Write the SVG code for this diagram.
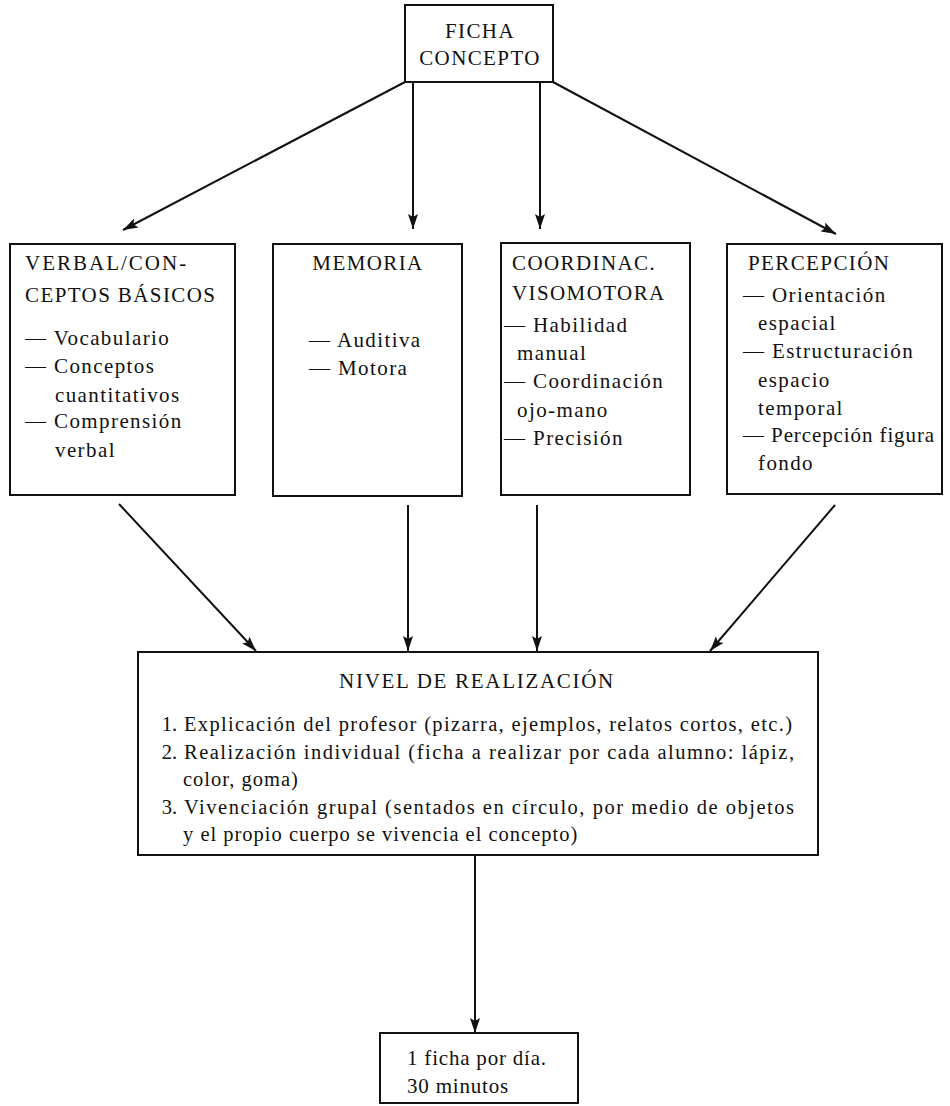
<svg xmlns="http://www.w3.org/2000/svg" width="950" height="1106" viewBox="0 0 950 1106">
<style>
.box{fill:#fff;stroke:#111;stroke-width:2}
.t{font-family:"Liberation Serif","Times New Roman",serif;font-size:21px;fill:#111;letter-spacing:1.4px}
.s{font-family:"Liberation Serif","Times New Roman",serif;font-size:20.5px;fill:#111;letter-spacing:1px}
.n{font-family:"Liberation Serif","Times New Roman",serif;font-size:20.5px;fill:#111;text-anchor:end}
.c{text-anchor:middle}
.ln{stroke:#111;stroke-width:2;fill:none;marker-end:url(#ah)}
</style>
<defs>
<marker id="ah" markerUnits="userSpaceOnUse" markerWidth="16" markerHeight="10" refX="15" refY="5" orient="auto">
<path d="M0,0 L15,5 L0,10 L3,5 z" fill="#111"/>
</marker>
</defs>
<rect width="950" height="1106" fill="#fff"/>
<g id="connectors">
<line class="ln" x1="405" y1="82" x2="123" y2="230"/>
<line class="ln" x1="413" y1="82" x2="413" y2="229"/>
<line class="ln" x1="540" y1="82" x2="540" y2="229"/>
<line class="ln" x1="553" y1="82" x2="836" y2="234"/>
<line class="ln" x1="119" y1="504" x2="256" y2="651"/>
<line class="ln" x1="408" y1="505" x2="408" y2="651"/>
<line class="ln" x1="537" y1="505" x2="537" y2="651"/>
<line class="ln" x1="835" y1="505" x2="710" y2="651"/>
<line class="ln" x1="475" y1="855" x2="475" y2="1033"/>
</g>
<g id="ficha-concepto">
<rect class="box" x="405" y="5" width="148" height="77"/>
<text class="t c" x="480" y="38">FICHA</text>
<text class="t c" x="480" y="65">CONCEPTO</text>
</g>
<g id="verbal">
<rect class="box" x="10" y="244" width="225" height="251"/>
<text class="t" x="25" y="270" style="letter-spacing:2px">VERBAL/CON-</text>
<text class="t" x="25" y="302">CEPTOS BÁSICOS</text>
<text class="t" x="25" y="345">— Vocabulario</text>
<text class="t" x="25" y="373">— Conceptos</text>
<text class="t" x="55" y="402">cuantitativos</text>
<text class="t" x="25" y="428">— Comprensión</text>
<text class="t" x="55" y="457">verbal</text>
</g>
<g id="memoria">
<rect class="box" x="273" y="244" width="189" height="252"/>
<text class="t c" x="368" y="270">MEMORIA</text>
<text class="t" x="309" y="347">— Auditiva</text>
<text class="t" x="309" y="375">— Motora</text>
</g>
<g id="coordinac">
<rect class="box" x="501" y="243" width="189" height="252"/>
<text class="t" x="512" y="270">COORDINAC.</text>
<text class="t" x="512" y="300">VISOMOTORA</text>
<text class="t" x="504" y="332">— Habilidad</text>
<text class="t" x="517" y="360">manual</text>
<text class="t" x="504" y="388">— Coordinación</text>
<text class="t" x="517" y="417">ojo-mano</text>
<text class="t" x="504" y="445">— Precisión</text>
</g>
<g id="percepcion">
<rect class="box" x="727" y="244" width="215" height="250"/>
<text class="t" x="748" y="270">PERCEPCIÓN</text>
<text class="t" x="743" y="302">— Orientación</text>
<text class="t" x="758" y="330">espacial</text>
<text class="t" x="743" y="358">— Estructuración</text>
<text class="t" x="758" y="387">espacio</text>
<text class="t" x="758" y="415">temporal</text>
<text class="t" x="743" y="442" style="letter-spacing:0.9px">— Percepción figura</text>
<text class="t" x="758" y="470">fondo</text>
</g>
<g id="nivel">
<rect class="box" x="138" y="652" width="680" height="203"/>
<text class="t c" x="477" y="688" style="letter-spacing:1.7px">NIVEL DE REALIZACIÓN</text>
<text class="n" x="177" y="731">1.</text>
<text class="s" x="184" y="731" textLength="609" lengthAdjust="spacing">Explicación del profesor (pizarra, ejemplos, relatos cortos, etc.)</text>
<text class="n" x="177" y="759">2.</text>
<text class="s" x="184" y="759" textLength="611" lengthAdjust="spacing">Realización individual (ficha a realizar por cada alumno: lápiz,</text>
<text class="s" x="183" y="786">color, goma)</text>
<text class="n" x="177" y="814">3.</text>
<text class="s" x="184" y="814" textLength="611" lengthAdjust="spacing">Vivenciación grupal (sentados en círculo, por medio de objetos</text>
<text class="s" x="183" y="841">y el propio cuerpo se vivencia el concepto)</text>
</g>
<g id="ficha-dia">
<rect class="box" x="380" y="1033" width="198" height="70"/>
<text class="t" x="407" y="1065" style="letter-spacing:0.8px">1 ficha por día.</text>
<text class="t" x="407" y="1093" style="letter-spacing:0.8px">30 minutos</text>
</g>
</svg>
